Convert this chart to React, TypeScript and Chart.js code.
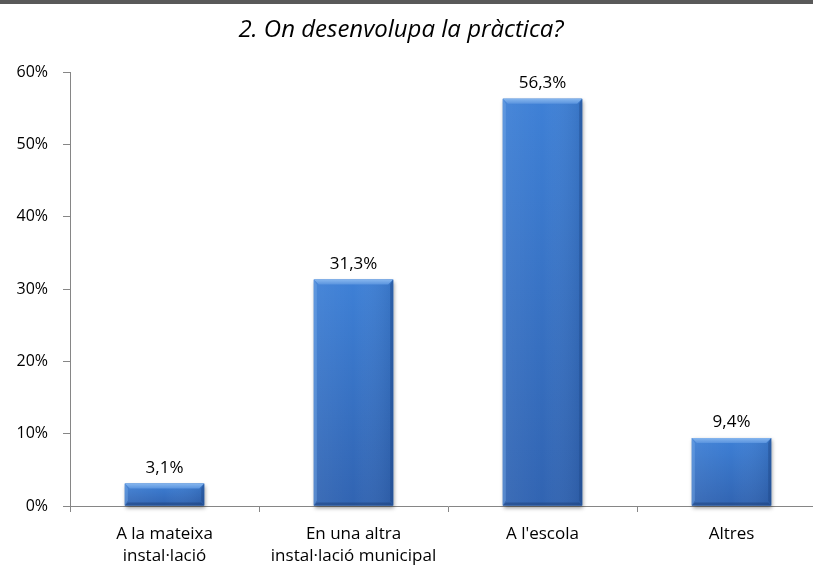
import React, { useEffect, useRef } from "react";
import { Chart, registerables } from "chart.js";

Chart.register(...registerables);

const title = "2. On desenvolupa la pràctica?";
const categories: string[][] = [
  ["A la mateixa", "instal·lació"],
  ["En una altra", "instal·lació municipal"],
  ["A l'escola"],
  ["Altres"],
];
const values: number[] = [3.1, 31.3, 56.3, 9.4];
const valueLabels: string[] = ["3,1%", "31,3%", "56,3%", "9,4%"];
const yTicks: number[] = [0, 10, 20, 30, 40, 50, 60];

const FONT = "'Open Sans', sans-serif";

const bevelPlugin = {
  id: "bevelBars",
  afterDatasetsDraw(chart: any) {
    const ctx = chart.ctx;
    const meta = chart.getDatasetMeta(0);
    meta.data.forEach((bar: any, i: number) => {
      const { x, y, base, width } = bar.getProps(["x", "y", "base", "width"], true);
      const l = x - width / 2;
      const r = x + width / 2;
      const t = y;
      const b = base;
      const bv = Math.min(5, (b - t) / 3);
      ctx.save();
      ctx.shadowColor = "rgba(0,0,0,0.4)";
      ctx.shadowBlur = 4;
      ctx.shadowOffsetX = 1;
      ctx.shadowOffsetY = 2;
      ctx.fillStyle = "#3a7bd0";
      ctx.fillRect(l, t, r - l, b - t);
      ctx.restore();
      ctx.save();
      const gv = ctx.createLinearGradient(0, t, 0, b);
      gv.addColorStop(0, "#3e80d6");
      gv.addColorStop(1, "#3164b2");
      ctx.fillStyle = gv;
      ctx.fillRect(l, t, r - l, b - t);
      const g = ctx.createLinearGradient(l, 0, r, 0);
      g.addColorStop(0, "rgba(255,255,255,0.06)");
      g.addColorStop(0.5, "rgba(255,255,255,0)");
      g.addColorStop(1, "rgba(0,20,60,0.12)");
      ctx.fillStyle = g;
      ctx.fillRect(l, t, r - l, b - t);
      // top bevel
      ctx.beginPath();
      ctx.moveTo(l, t);
      ctx.lineTo(r, t);
      ctx.lineTo(r - bv, t + bv);
      ctx.lineTo(l + bv, t + bv);
      ctx.closePath();
      const gt = ctx.createLinearGradient(0, t, 0, t + bv);
      gt.addColorStop(0, "#86b6ee");
      gt.addColorStop(1, "#5993de");
      ctx.fillStyle = gt;
      ctx.fill();
      // left bevel
      ctx.beginPath();
      ctx.moveTo(l, t);
      ctx.lineTo(l + bv * 0.6, t + bv);
      ctx.lineTo(l + bv * 0.6, b - bv);
      ctx.lineTo(l, b);
      ctx.closePath();
      ctx.fillStyle = "rgba(120,170,230,0.45)";
      ctx.fill();
      // right bevel
      ctx.beginPath();
      ctx.moveTo(r, t);
      ctx.lineTo(r - bv * 0.6, t + bv);
      ctx.lineTo(r - bv * 0.6, b - bv);
      ctx.lineTo(r, b);
      ctx.closePath();
      ctx.fillStyle = "rgba(30,70,135,0.45)";
      ctx.fill();
      // bottom bevel
      ctx.beginPath();
      ctx.moveTo(l, b);
      ctx.lineTo(r, b);
      ctx.lineTo(r - bv * 0.6, b - bv * 0.6);
      ctx.lineTo(l + bv * 0.6, b - bv * 0.6);
      ctx.closePath();
      ctx.fillStyle = "rgba(30,65,125,0.55)";
      ctx.fill();
      // label
      ctx.fillStyle = "#000";
      ctx.font = "17px " + FONT;
      ctx.textAlign = "center";
      ctx.textBaseline = "alphabetic";
      ctx.fillText(valueLabels[i], x, t - 11);
      ctx.restore();
    });
    ctx.save();
    ctx.fillStyle = "#000";
    ctx.font = "italic 24px " + FONT;
    ctx.textAlign = "center";
    ctx.textBaseline = "middle";
    ctx.fillText(title, 401, 30);
    ctx.restore();
  },
};

export default function App() {
  const ref = useRef<HTMLCanvasElement | null>(null);
  useEffect(() => {
    document.body.style.margin = "0";
    const chart = new Chart(ref.current as HTMLCanvasElement, {
      type: "bar",
      data: {
        labels: categories,
        datasets: [
          {
            data: values,
            backgroundColor: "rgba(0,0,0,0)",
            borderWidth: 0,
            barPercentage: 0.42,
            categoryPercentage: 1,
          },
        ],
      },
      options: {
        responsive: false,
        animation: false,
        layout: { padding: { top: 72, right: 0, left: 0, bottom: 0 } },
        plugins: { legend: { display: false }, title: { display: false }, tooltip: { enabled: false } },
        scales: {
          x: {
            grid: { drawOnChartArea: false, color: "#868686", tickLength: 6, offset: true },
            border: { color: "#868686", width: 1 },
            ticks: { color: "#000", font: { size: 17, family: FONT, lineHeight: 1.25 }, padding: 12, maxRotation: 0, autoSkip: false },
            afterFit: (s: any) => { s.height = 64; },
          },
          y: {
            min: 0,
            max: 60,
            afterBuildTicks: (s: any) => { s.ticks = yTicks.map((v) => ({ value: v })); },
            grid: { drawOnChartArea: false, color: "#868686", tickLength: 7 },
            border: { color: "#868686", width: 1 },
            ticks: { color: "#000", font: { size: 16, family: FONT }, padding: 15, callback: (v: any) => v + "%" },
            afterFit: (s: any) => { s.width = 70; },
          },
        },
      },
      plugins: [bevelPlugin],
    });
    return () => chart.destroy();
  }, []);
  return (
    <div style={{ position: "relative", width: 813, height: 570, overflow: "hidden", background: "#fff" }}>
      <div style={{ position: "absolute", top: 0, left: 0, width: 813, height: 4, background: "#595959" }} />
      <canvas ref={ref} width={826} height={570} style={{ display: "block" }} />
    </div>
  );
}
